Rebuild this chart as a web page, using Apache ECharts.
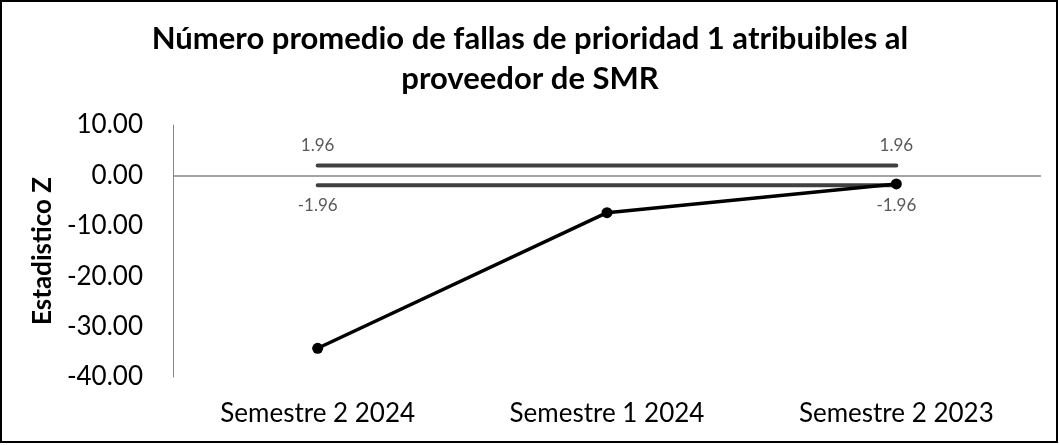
<!DOCTYPE html>
<html>
<head>
<meta charset="utf-8">
<script src="https://cdn.jsdelivr.net/npm/echarts@6/dist/echarts.min.js"></script>
<style>
  html, body { margin: 0; padding: 0; background: #fff; }
  #chart { width: 1060px; height: 445px; }
</style>
</head>
<body>
<div id="chart"></div>
<script>
// Periods on the horizontal axis
const categories = ['Semestre 2 2024', 'Semestre 1 2024', 'Semestre 2 2023'];
// Z statistic per period
const zValues = [-34.3, -7.4, -1.7];
// Critical values (±1.96)
const upperLimit = [1.96, 1.96, 1.96];
const lowerLimit = [-1.96, -1.96, -1.96];
// Value axis ticks
const yTicks = { min: -40, max: 10, interval: 10 };

const FONT = 'Lato';

// Only the end points of each limit line carry a value label
function limitData(values, pos) {
  return values.map((v, i) => ({
    value: v,
    label: {
      show: i === 0 || i === values.length - 1,
      position: pos,
      distance: 11,
      formatter: (p) => p.value.toFixed(2),
      color: '#595959',
      fontFamily: FONT,
      fontSize: 17
    }
  }));
}

const chart = echarts.init(document.getElementById('chart'), null, { renderer: 'canvas' });
chart.setOption({
  animation: false,
  backgroundColor: '#ffffff',
  title: {
    text: 'Número promedio de fallas de prioridad 1 atribuibles al\nproveedor de SMR',
    left: 'center',
    top: 14,
    textStyle: {
      fontFamily: FONT,
      fontWeight: 'bold',
      fontSize: 31,
      lineHeight: 40,
      color: '#000'
    }
  },
  graphic: [{
    type: 'rect',
    shape: { x: 1, y: 1, width: 1056, height: 441 },
    style: { fill: 'none', stroke: '#000', lineWidth: 2 },
    silent: true
  }],
  grid: { left: 173, right: 19, top: 125, bottom: 68 },
  xAxis: {
    type: 'category',
    data: categories,
    boundaryGap: true,
    axisLine: { show: false },
    axisTick: { show: false },
    axisLabel: {
      color: '#000',
      fontFamily: FONT,
      fontSize: 26,
      margin: 24
    },
    splitLine: { show: false }
  },
  yAxis: {
    type: 'value',
    min: yTicks.min,
    max: yTicks.max,
    interval: yTicks.interval,
    name: 'Estadistico Z',
    nameLocation: 'middle',
    nameGap: 113,
    nameRotate: 90,
    nameTextStyle: {
      color: '#000',
      fontFamily: FONT,
      fontWeight: 'bold',
      fontSize: 26
    },
    axisLine: { show: true, lineStyle: { color: '#868686', width: 1 } },
    axisTick: { show: false },
    axisLabel: {
      color: '#000',
      fontFamily: FONT,
      fontSize: 26,
      margin: 30,
      formatter: (v) => v.toFixed(2)
    },
    splitLine: { show: false }
  },
  series: [
    {
      name: 'Límite superior',
      type: 'line',
      data: limitData(upperLimit, 'top'),
      symbol: 'circle',
      symbolSize: 1,
      showSymbol: true,
      itemStyle: { color: '#404040' },
      lineStyle: { color: '#404040', width: 4, cap: 'round' },
      z: 3,
      markLine: {
        silent: true,
        symbol: 'none',
        label: { show: false },
        lineStyle: { color: '#868686', width: 1.5, type: 'solid' },
        data: [{ yAxis: 0 }]
      }
    },
    {
      name: 'Límite inferior',
      type: 'line',
      data: limitData(lowerLimit, 'bottom'),
      symbol: 'circle',
      symbolSize: 1,
      showSymbol: true,
      itemStyle: { color: '#404040' },
      lineStyle: { color: '#404040', width: 4, cap: 'round' },
      z: 3
    },
    {
      name: 'Estadístico Z',
      type: 'line',
      data: zValues,
      symbol: 'circle',
      symbolSize: 11,
      itemStyle: { color: '#000' },
      lineStyle: { color: '#000', width: 3.5 },
      label: { show: false },
      z: 5
    }
  ]
});
</script>
</body>
</html>
